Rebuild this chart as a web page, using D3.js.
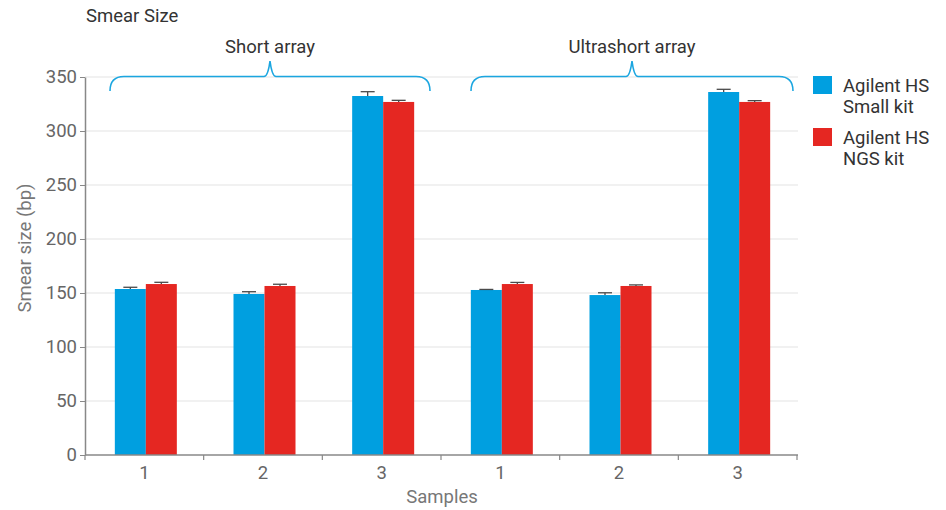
<!DOCTYPE html>
<html><head><meta charset="utf-8">
<script src="https://cdn.jsdelivr.net/npm/d3@7"></script>
<style>body{margin:0;background:#fff;} text{font-family:Roboto,"Noto Sans",sans-serif;}</style>
</head><body><svg id="c" width="946" height="510"></svg>
<script>
const categories = ["S1","S2","S3","U1","U2","U3"];
const categoryLabels = ["1","2","3","1","2","3"];
const seriesNames = ["Agilent HS Small kit","Agilent HS NGS kit"];
const smallKit = [153.7,149.1,332.4,152.8,148.1,336.1];
const smallErr = [1.6,2.1,4.0,0.5,2.1,2.5];
const ngsKit = [158.3,156.5,326.9,158.3,156.5,326.9];
const ngsErr = [1.6,1.6,1.5,1.5,1.0,1.2];
const yTicks = [0,50,100,150,200,250,300,350];
const groups = [{label:"Short array", first:"S1", last:"S3"},{label:"Ultrashort array", first:"U1", last:"U3"}];
const colors = ["#009fe0","#e52722"];

const svg = d3.select("#c");
const x = d3.scaleBand().domain(categories).range([85,797]).padding(0);
const xs = d3.scaleBand().domain(seriesNames).range([1.5,x.bandwidth()+1.5]).paddingInner(0).paddingOuter(0.914);
const y = d3.scaleLinear().domain([0,350]).range([455,77]);

// grid
svg.append("g").selectAll("line").data(yTicks.slice(1)).join("line")
  .attr("x1",85).attr("x2",798).attr("y1",d=>y(d)).attr("y2",d=>y(d))
  .attr("stroke","#e3e3e3").attr("stroke-width",1);

// bars
const data = [smallKit, ngsKit], errs = [smallErr, ngsErr];
seriesNames.forEach((s,si)=>{
  const g = svg.append("g");
  g.selectAll("rect").data(categories).join("rect")
    .attr("x",(c)=>x(c)+xs(s)).attr("width",xs.bandwidth())
    .attr("y",(c,i)=>y(data[si][i])).attr("height",(c,i)=>y(0)-y(data[si][i]))
    .attr("fill",colors[si]);
});
// error bars (upper)
seriesNames.forEach((s,si)=>{
  const g = svg.append("g").attr("stroke","#4a4a4a").attr("stroke-width",1.3);
  categories.forEach((c,i)=>{
    const cx = x(c)+xs(s)+xs.bandwidth()/2;
    const top = y(data[si][i]+errs[si][i]);
    g.append("line").attr("x1",cx).attr("x2",cx).attr("y1",y(data[si][i])).attr("y2",top);
    g.append("line").attr("x1",cx-7).attr("x2",cx+7).attr("y1",top).attr("y2",top);
  });
});

// y axis
const yAxis = d3.axisLeft(y).tickValues(yTicks).tickSize(5).tickPadding(3).tickSizeOuter(0);
const ya = svg.append("g").attr("transform","translate(85,0)").call(yAxis);
ya.select(".domain").attr("stroke","#888").attr("stroke-width",1.5);
ya.selectAll(".tick line").attr("stroke","#888");
ya.selectAll("text").attr("fill","#666").style("font-size","18.5px").style("font-family","Roboto");

// x axis
const xa = svg.append("g").attr("transform","translate(0,455)");
xa.append("line").attr("x1",85).attr("x2",798).attr("y1",0).attr("y2",0).attr("stroke","#888").attr("stroke-width",1.5);
const bounds = categories.map(c=>x(c)).concat([x.range()[1]]);
xa.selectAll(".tk").data(bounds).join("line").attr("class","tk")
  .attr("x1",d=>d).attr("x2",d=>d).attr("y1",0).attr("y2",5).attr("stroke","#888").attr("stroke-width",1.2);
xa.selectAll(".lb").data(categories).join("text").attr("class","lb")
  .attr("x",c=>x(c)+x.bandwidth()/2).attr("y",23.5).attr("text-anchor","middle")
  .attr("fill","#666").style("font-size","18.5px").text((c,i)=>categoryLabels[i]);

svg.append("text").attr("x",442).attr("y",503).attr("text-anchor","middle").attr("fill","#777")
  .style("font-size","18.5px").text("Samples");
svg.append("text").attr("transform","translate(31,248) rotate(-90)").attr("text-anchor","middle").attr("fill","#777")
  .style("font-size","18.5px").text("Smear size (bp)");
svg.append("text").attr("x",86).attr("y",22).attr("fill","#333").style("font-size","18.5px").text("Smear Size");

// brackets
const insets = [[25,11],[30,4]];
groups.forEach((gr,gi)=>{
  const x0 = x(gr.first)+insets[gi][0];
  const x1 = x(gr.last)+x.bandwidth()-insets[gi][1];
  const cx = (x0+x1)/2, hy = 76.5, by = 91, py = 61, r = 14;
  const p = `M${x0},${by} Q${x0},${hy} ${x0+r},${hy} L${cx-6},${hy} Q${cx-2},${hy} ${cx},${py} Q${cx+2},${hy} ${cx+6},${hy} L${x1-r},${hy} Q${x1},${hy} ${x1},${by}`;
  svg.append("path").attr("d",p).attr("fill","none").attr("stroke","#1ba6e0").attr("stroke-width",1.6);
  svg.append("text").attr("x",cx).attr("y",53).attr("text-anchor","middle").attr("fill","#333")
    .style("font-size","18.5px").text(gr.label);
});

// legend
const legLines = [["Agilent HS","Small kit"],["Agilent HS","NGS kit"]];
seriesNames.forEach((s,si)=>{
  const g = svg.append("g").attr("transform",`translate(813,${76+si*52})`);
  g.append("rect").attr("width",19).attr("height",18).attr("fill",colors[si]);
  legLines[si].forEach((t,li)=>{
    g.append("text").attr("x",30).attr("y",16+li*21).attr("fill","#333").style("font-size","18.5px").text(t);
  });
});
</script></body></html>
